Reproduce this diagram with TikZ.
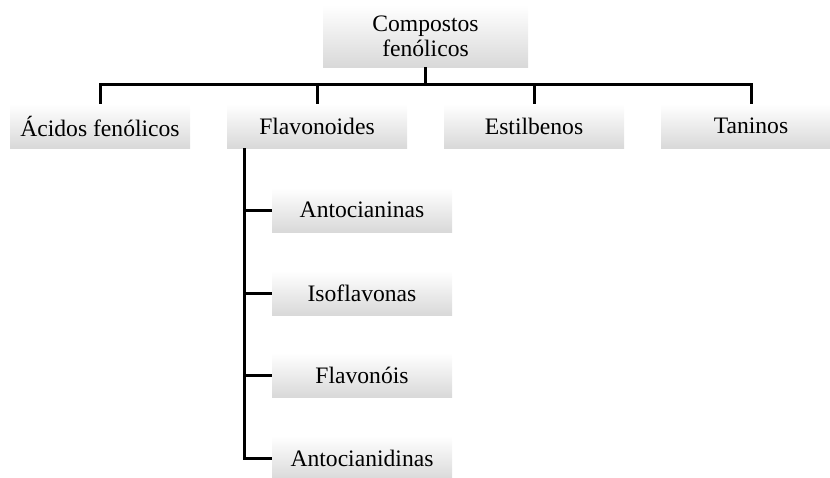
\documentclass[tikz,border=0pt]{standalone}
\usepackage{fontspec}
\setmainfont{Liberation Serif}
\tikzset{
  caixa/.style={top color=white, middle color=white, bottom color=black!15,
    minimum width=90pt, minimum height=22pt, inner sep=0pt,
    font=\fontsize{11.8}{12.5}\selectfont},
  liga/.style={line width=1.5pt}
}
\begin{document}
\begin{tikzpicture}[x=0.5pt,y=-0.5pt]
  \useasboundingbox (0,0) rectangle (830,477);
  % raiz
  \node[caixa, minimum width=102.5pt, minimum height=31pt, align=center] (raiz) at (425.5,36) {Compostos\\fenólicos};

  % primeiro nivel
  \node[caixa] (acidos) at (100,126) {Ácidos fenólicos};
  \node[caixa] (flav) at (317,126) {Flavonoides};
  \node[caixa] (estil) at (534,126) {Estilbenos};
  \node[caixa] (taninos) at (751,126) {Taninos};

  \draw[liga] (raiz.south) -- ++(0,18);
  \draw[liga] (acidos.north) -- ++(0,-19) -| (taninos.north);
  \draw[liga] (flav.north) -- ++(0,-19);
  \draw[liga] (estil.north) -- ++(0,-19);

  % flavonoides
  \node[caixa] (antocianinas) at (362,210) {Antocianinas};
  \node[caixa] (isoflavonas) at (362,293) {Isoflavonas};
  \node[caixa] (flavonois) at (362,375) {Flavonóis};
  \node[caixa] (antocianidinas) at (362,458) {Antocianidinas};

  \draw[liga] ([xshift=-36.5pt]flav.south) |- (antocianidinas.west);
  \draw[liga] (antocianinas.west) -- ++(-28,0);
  \draw[liga] (isoflavonas.west) -- ++(-28,0);
  \draw[liga] (flavonois.west) -- ++(-28,0);
\end{tikzpicture}
\end{document}
